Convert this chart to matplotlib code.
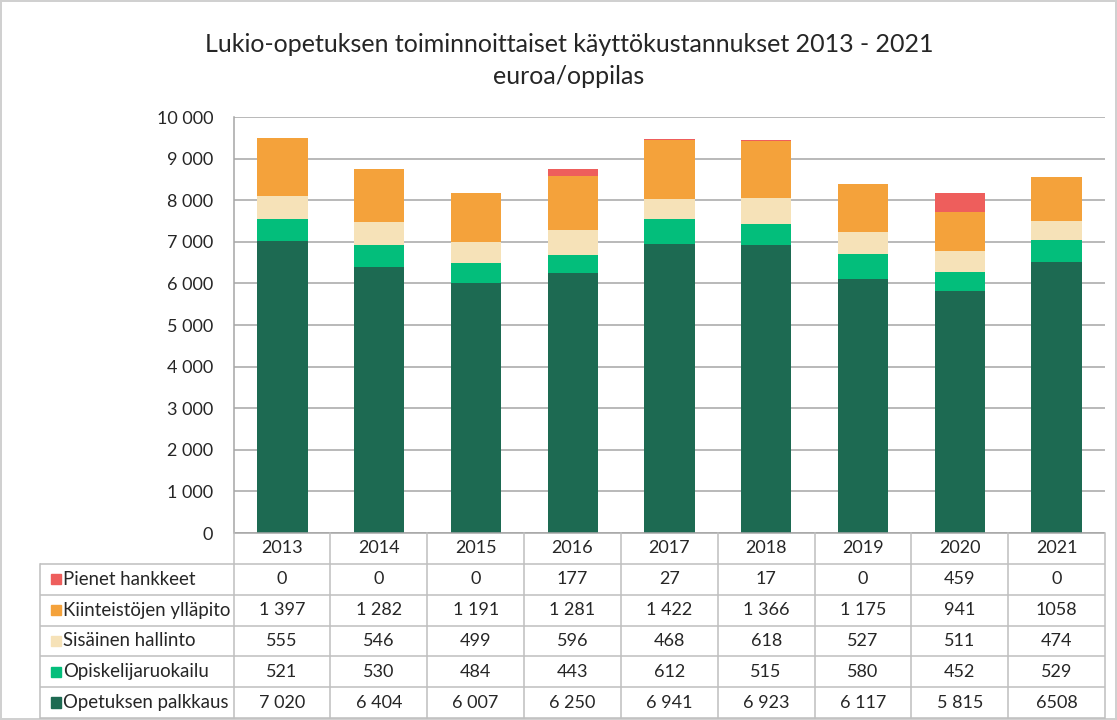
import matplotlib
matplotlib.use("Agg")
import matplotlib.pyplot as plt
from matplotlib.patches import Rectangle

plt.rcParams['font.family'] = ['Lato', 'DejaVu Sans']

years = ["2013", "2014", "2015", "2016", "2017", "2018", "2019", "2020", "2021"]
series_names = ["Pienet hankkeet", "Kiinteistöjen ylläpito", "Sisäinen hallinto",
                "Opiskelijaruokailu", "Opetuksen palkkaus"]
pienet = [0, 0, 0, 177, 27, 17, 0, 459, 0]
kiinteistot = [1397, 1282, 1191, 1281, 1422, 1366, 1175, 941, 1058]
hallinto = [555, 546, 499, 596, 468, 618, 527, 511, 474]
ruokailu = [521, 530, 484, 443, 612, 515, 580, 452, 529]
palkkaus = [7020, 6404, 6007, 6250, 6941, 6923, 6117, 5815, 6508]
grouped_format = [True, True, True, True, True, True, True, True, False]
yticks = [0, 1000, 2000, 3000, 4000, 5000, 6000, 7000, 8000, 9000, 10000]

colors = {"Pienet hankkeet": "#EE5E5C",
          "Kiinteistöjen ylläpito": "#F4A23B",
          "Sisäinen hallinto": "#F6E2B8",
          "Opiskelijaruokailu": "#03BE7B",
          "Opetuksen palkkaus": "#1D6A52"}
values = {"Pienet hankkeet": pienet, "Kiinteistöjen ylläpito": kiinteistot,
          "Sisäinen hallinto": hallinto, "Opiskelijaruokailu": ruokailu,
          "Opetuksen palkkaus": palkkaus}

W, H = 1117, 720
fig = plt.figure(figsize=(W / 100, H / 100), dpi=100)
fig.patch.set_edgecolor("#D0D0D0")
fig.patch.set_linewidth(1.5)

def fx(px):
    return px / W

def fy(py):
    return 1 - py / H

TXT = "#262626"

# Bar axes
ax = fig.add_axes([fx(234), fy(533), fx(1105) - fx(234), fy(117) - fy(533)])
x = list(range(len(years)))
bottom = [0] * len(years)
for name in reversed(series_names):
    vals = values[name]
    ax.bar(x, vals, width=0.52, bottom=bottom, color=colors[name], zorder=3)
    bottom = [b + v for b, v in zip(bottom, vals)]
ax.set_xlim(-0.5, len(years) - 0.5)
ax.set_ylim(0, 10000)
ax.set_yticks(yticks)
ax.set_yticklabels([f"{v:,}".replace(",", " ") for v in yticks], fontsize=13, color=TXT)
ax.tick_params(axis="y", length=0, pad=15)
ax.set_xticks([])
ax.grid(axis="y", color="#A6A6A6", linewidth=1.1, zorder=0)
for s in ["top", "right", "bottom"]:
    ax.spines[s].set_visible(False)
ax.spines["left"].set_color("#A6A6A6")
ax.spines["left"].set_linewidth(1.1)

# Title
fig.text(fx(569), fy(45), "Lukio-opetuksen toiminnoittaiset käyttökustannukset 2013 - 2021",
         ha="center", va="center", fontsize=18, color=TXT)
fig.text(fx(569), fy(76), "euroa/oppilas", ha="center", va="center", fontsize=18, color=TXT)

# Table axes
tax = fig.add_axes([fx(40), fy(718), fx(1105) - fx(40), fy(533) - fy(718)])
nrows = len(series_names) + 1
tax.set_xlim(-2.5, len(years) - 0.5)
tax.set_ylim(nrows, 0)
tax.axis("off")
lc = "#BFBFBF"
for r in range(0, nrows + 1):
    x0 = -0.5 if r == 0 else -2.5
    tax.plot([x0, len(years) - 0.5], [r, r], color=("#A6A6A6" if r == 0 else lc), lw=1.1,
             solid_capstyle="butt", clip_on=False)
tax.plot([-2.5, -2.5], [1, nrows], color=lc, lw=1.1, clip_on=False)
for c in range(len(years) + 1):
    tax.plot([c - 0.5, c - 0.5], [0, nrows], color=lc, lw=1.1, clip_on=False)
for i, yr in enumerate(years):
    tax.text(i, 0.5, yr, ha="center", va="center", fontsize=13, color=TXT)
for r, name in enumerate(series_names, start=1):
    yc = r + 0.5
    tax.add_patch(Rectangle((-2.385, yc - 0.17), 0.1, 0.34, color=colors[name]))
    tax.text(-2.26, yc, name, ha="left", va="center", fontsize=13.4, color=TXT)
    for i, v in enumerate(values[name]):
        s = f"{v:,}".replace(",", " ") if grouped_format[i] else str(v)
        tax.text(i, yc, s, ha="center", va="center", fontsize=13, color=TXT)

fig.savefig("out.png", dpi=100)
